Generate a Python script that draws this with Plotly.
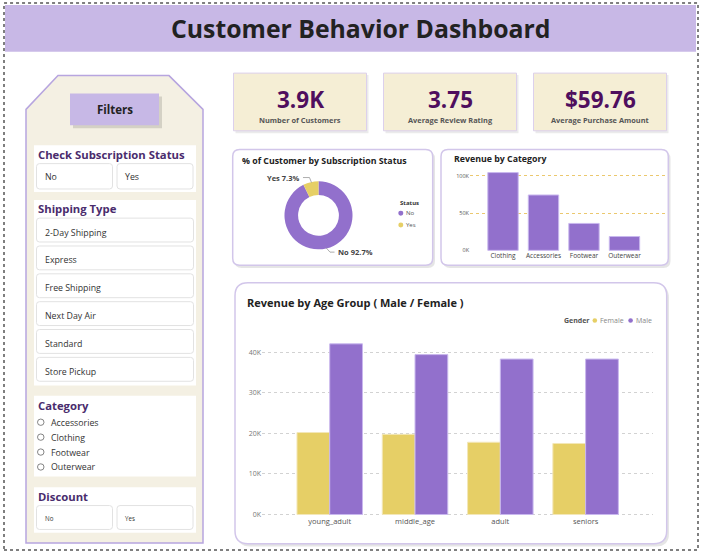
import plotly.graph_objects as go

# ---------------- data ----------------
kpi_values = ["3.9K", "3.75", "$59.76"]
kpi_labels = ["Number of Customers", "Average Review Rating", "Average Purchase Amount"]

subscription_status = ["No", "Yes"]
subscription_share = [92.7, 7.3]

categories = ["Clothing", "Accessories", "Footwear", "Outerwear"]
category_revenue = [104264, 74200, 36093, 18524]

age_groups = ["young_adult", "middle_age", "adult", "seniors"]
female_revenue = [20200, 19750, 17800, 17500]
male_revenue = [42050, 39400, 38300, 38300]

cat_ticks = [0, 50000, 100000]
cat_tick_text = ["0K", "50K", "100K"]
age_ticks = [0, 10000, 20000, 30000, 40000]
age_tick_text = ["0K", "10K", "20K", "30K", "40K"]

subscription_filter = ["No", "Yes"]
shipping_types = ["2-Day Shipping", "Express", "Free Shipping", "Next Day Air", "Standard", "Store Pickup"]
category_filter = ["Accessories", "Clothing", "Footwear", "Outerwear"]
discount_filter = ["No", "Yes"]

# ---------------- helpers ----------------
W, H = 702, 559
FONT = "Open Sans"
PURPLE = "#9270CC"
YELLOW = "#E6CF66"
DARK = "#4A2C6D"


def X(px):
    return px / W


def Y(py):
    return 1 - py / H


shapes = []
annotations = []


def rect(x0, y0, x1, y1, fill, line="rgba(0,0,0,0)", lw=0, dash=None):
    s = dict(type="rect", xref="paper", yref="paper", x0=X(x0), x1=X(x1), y0=Y(y1), y1=Y(y0),
             fillcolor=fill, line=dict(color=line, width=lw), layer="below")
    if dash:
        s["line"]["dash"] = dash
    shapes.append(s)


def rrect(x0, y0, x1, y1, r, fill, line="rgba(0,0,0,0)", lw=0):
    def p(a, b):
        return f"{X(a):.5f},{Y(b):.5f}"
    path = (f"M {p(x0 + r, y0)} L {p(x1 - r, y0)} Q {p(x1, y0)} {p(x1, y0 + r)} "
            f"L {p(x1, y1 - r)} Q {p(x1, y1)} {p(x1 - r, y1)} L {p(x0 + r, y1)} "
            f"Q {p(x0, y1)} {p(x0, y1 - r)} L {p(x0, y0 + r)} Q {p(x0, y0)} {p(x0 + r, y0)} Z")
    shapes.append(dict(type="path", xref="paper", yref="paper", path=path, fillcolor=fill,
                       line=dict(color=line, width=lw), layer="below"))


def line(pts, color, width=1):
    path = "M " + " L ".join(f"{X(a):.5f},{Y(b):.5f}" for a, b in pts)
    shapes.append(dict(type="path", xref="paper", yref="paper", path=path,
                       line=dict(color=color, width=width), layer="above"))


def dot(cx, cy, r, color):
    shapes.append(dict(type="circle", xref="paper", yref="paper", x0=X(cx - r), x1=X(cx + r),
                       y0=Y(cy + r), y1=Y(cy - r), fillcolor=color, line=dict(width=0), layer="above"))


def text(x, y, s, size, color="#222", bold=False, xanchor="left", family=FONT):
    annotations.append(dict(xref="paper", yref="paper", x=X(x), y=Y(y), text=(f"<b>{s}</b>" if bold else s),
                            showarrow=False, xanchor=xanchor, yanchor="middle",
                            font=dict(size=size, color=color, family=family)))


# ---------------- page frame ----------------
rect(4, 3, 698, 553, "rgba(0,0,0,0)", "#555555", 1.5, "dot")
rect(5, 5, 696, 52, "#C8B8E6")
text(360.5, 28, "Customer Behavior Dashboard", 24.8, "#222222", True, "center")

# ---------------- filter panel ----------------
panel = [(58, 76), (169, 76), (203, 110), (203, 546), (26, 546), (26, 110)]
shapes.append(dict(type="path", xref="paper", yref="paper",
                   path="M " + " L ".join(f"{X(a):.5f},{Y(b):.5f}" for a, b in panel) + " Z",
                   fillcolor="#F4F0E3", line=dict(color="#B7A5DF", width=1.5), layer="below"))
rect(73, 97, 162, 129, "rgba(0,0,0,0.13)")
rect(70, 94, 159, 126, "#C7B8E6")
text(114.5, 110, "Filters", 11.5, "#222", True, "center")

# subscription
rect(34, 146, 196, 193, "#FFFFFF")
text(36, 155, "Check Subscription Status", 11.3, DARK, True)
for i, s in enumerate(subscription_filter):
    bx = 36.5 + i * 80.5
    rrect(bx, 164.5, bx + 76, 190, 3, "#FFFFFF", "#E2E2E2", 1)
    text(bx + 6, 178, s, 8.8, "#333")

# shipping type
rect(34, 201, 196, 387.5, "#FFFFFF")
text(36, 210, "Shipping Type", 11.3, DARK, True)
for i, s in enumerate(shipping_types):
    by = 219.3 + i * 28
    rrect(36.5, by, 193.5, by + 24, 3, "#FFFFFF", "#E2E2E2", 1)
    text(42.5, by + 14.5, s, 8.8, "#333")

# category
rect(34, 398, 196, 479, "#FFFFFF")
text(36, 407.5, "Category", 11.3, DARK, True)
for i, s in enumerate(category_filter):
    cy = 424.5 + i * 15
    shapes.append(dict(type="circle", xref="paper", yref="paper", x0=X(37.5), x1=X(44), y0=Y(cy + 3.2),
                       y1=Y(cy - 3.2), fillcolor="#FFFFFF", line=dict(color="#666", width=0.8)))
    text(48.5, cy + 0.5, s, 8.8, "#333")

# discount
rect(34, 490, 196, 535.5, "#FFFFFF")
text(36, 499, "Discount", 11.3, DARK, True)
for i, s in enumerate(discount_filter):
    bx = 36.5 + i * 80.5
    rrect(bx, 508.3, bx + 76, 532.3, 3, "#FFFFFF", "#E2E2E2", 1)
    text(bx + 6, 521, s, 6.2, "#333")

# ---------------- KPI cards ----------------
for i, (v, l) in enumerate(zip(kpi_values, kpi_labels)):
    x0 = 233.5 + i * 150
    rect(x0 + 2, 75.5, x0 + 135, 134, "rgba(0,0,0,0.08)")
    rect(x0, 73.5, x0 + 133, 131.5, "#F5EED5", "#DCD0EC", 1)
    text(x0 + 66.5, 100, v, 22.5, "#4F0E5E", True, "center")
    text(x0 + 66.5, 120.5, l, 7.4, "#555555", True, "center")

# ---------------- chart cards ----------------
rrect(234.5, 152.5, 435, 269.5, 7, "rgba(0,0,0,0.10)")
rrect(232.7, 150.3, 432.7, 266.7, 7, "#FFFFFF", "#D2C6EA", 1.5)
rrect(443, 152.5, 670.5, 269.5, 7, "rgba(0,0,0,0.10)")
rrect(441, 150.3, 668.3, 266.7, 7, "#FFFFFF", "#D2C6EA", 1.5)
rrect(237, 286.5, 669, 549.5, 13, "rgba(0,0,0,0.10)")
rrect(235, 284.3, 666.7, 546.7, 13, "#FFFFFF", "#D2C6EA", 1.5)

text(240, 162.3, "% of Customer by Subscription Status", 8.8, "#222", True)
text(452, 160, "Revenue by Category", 8.8, "#222", True)
text(245, 304.5, "Revenue by Age Group ( Male / Female )", 11, "#222", True)

# donut labels / legend
text(301.5, 179, "Yes 7.3%", 7.5, "#444", True, "right")
line([(303, 178.5), (309.5, 178.5), (311.5, 183.5)], "#999", 0.8)
text(335.5, 253.5, "No 92.7%", 7.5, "#444", True)
line([(326, 249), (330, 253.5), (334.5, 253.5)], "#999", 0.8)
text(397.5, 204, "Status", 6, "#333", True)
dot(400.8, 214.5, 2.5, PURPLE)
text(403.8, 214.5, "No", 6, "#555")
dot(400.8, 226.3, 2.5, YELLOW)
text(403.8, 226.3, "Yes", 6, "#555")

# gender legend
text(562.3, 322.3, "Gender", 7, "#555", True)
dot(594.8, 322.3, 2.3, YELLOW)
text(598, 322.3, "Female", 7, "#888")
dot(630.6, 322.3, 2.3, PURPLE)
text(633.8, 322.3, "Male", 7, "#888")

# ---------------- traces ----------------
fig = go.Figure()
fig.add_trace(go.Pie(labels=subscription_status, values=subscription_share, hole=0.6, sort=False,
                     direction="clockwise", rotation=0, textinfo="none", showlegend=False,
                     marker=dict(colors=[PURPLE, YELLOW], line=dict(width=0)),
                     domain=dict(x=[X(284.3), X(352.7)], y=[Y(250.7), Y(182.3)])))
fig.add_trace(go.Bar(x=categories, y=category_revenue, xaxis="x", yaxis="y", width=0.75,
                     marker=dict(color=PURPLE, line=dict(color="#C9B8EE", width=1)), showlegend=False))
fig.add_trace(go.Bar(x=age_groups, y=female_revenue, name="Female", xaxis="x2", yaxis="y2",
                     marker=dict(color=YELLOW, line=dict(color="#F3E7B8", width=1)), showlegend=False))
fig.add_trace(go.Bar(x=age_groups, y=male_revenue, name="Male", xaxis="x2", yaxis="y2",
                     marker=dict(color=PURPLE, line=dict(color="#C9B8EE", width=1)), showlegend=False))

fig.update_layout(
    width=W, height=H, autosize=False, margin=dict(l=0, r=0, t=0, b=0),
    paper_bgcolor="#FFFFFF", plot_bgcolor="rgba(0,0,0,0)",
    font=dict(family=FONT), barmode="group", bargap=0.232, bargroupgap=0,
    shapes=shapes, annotations=annotations,
    xaxis=dict(domain=[X(470), X(667)], range=[-0.815, 4.05], anchor="y", showgrid=False, ticks="",
               tickfont=dict(size=6.5, color="#444"), showline=False, zeroline=False, fixedrange=True),
    yaxis=dict(domain=[Y(252.3), Y(170)], range=[-800, 108933], anchor="x", tickvals=cat_ticks,
               ticktext=cat_tick_text, showgrid=True, gridcolor="#EBC86E", griddash="dot", gridwidth=1,
               zeroline=False, tickfont=dict(size=5.5, color="#555"), showline=False),
    xaxis2=dict(domain=[X(262), X(653)], range=[-0.794, 3.79], anchor="y2", showgrid=False, ticks="",
                tickfont=dict(size=7.5, color="#555"), showline=False, zeroline=False),
    yaxis2=dict(domain=[Y(518.5), Y(334.9)], range=[-300, 44700], anchor="x2", tickvals=age_ticks,
                ticktext=age_tick_text, showgrid=True, gridcolor="#D2D2D2", griddash="dot", gridwidth=0.8,
                zeroline=False, tickfont=dict(size=7, color="#777"), showline=False),
)

fig.write_html("out.html")
